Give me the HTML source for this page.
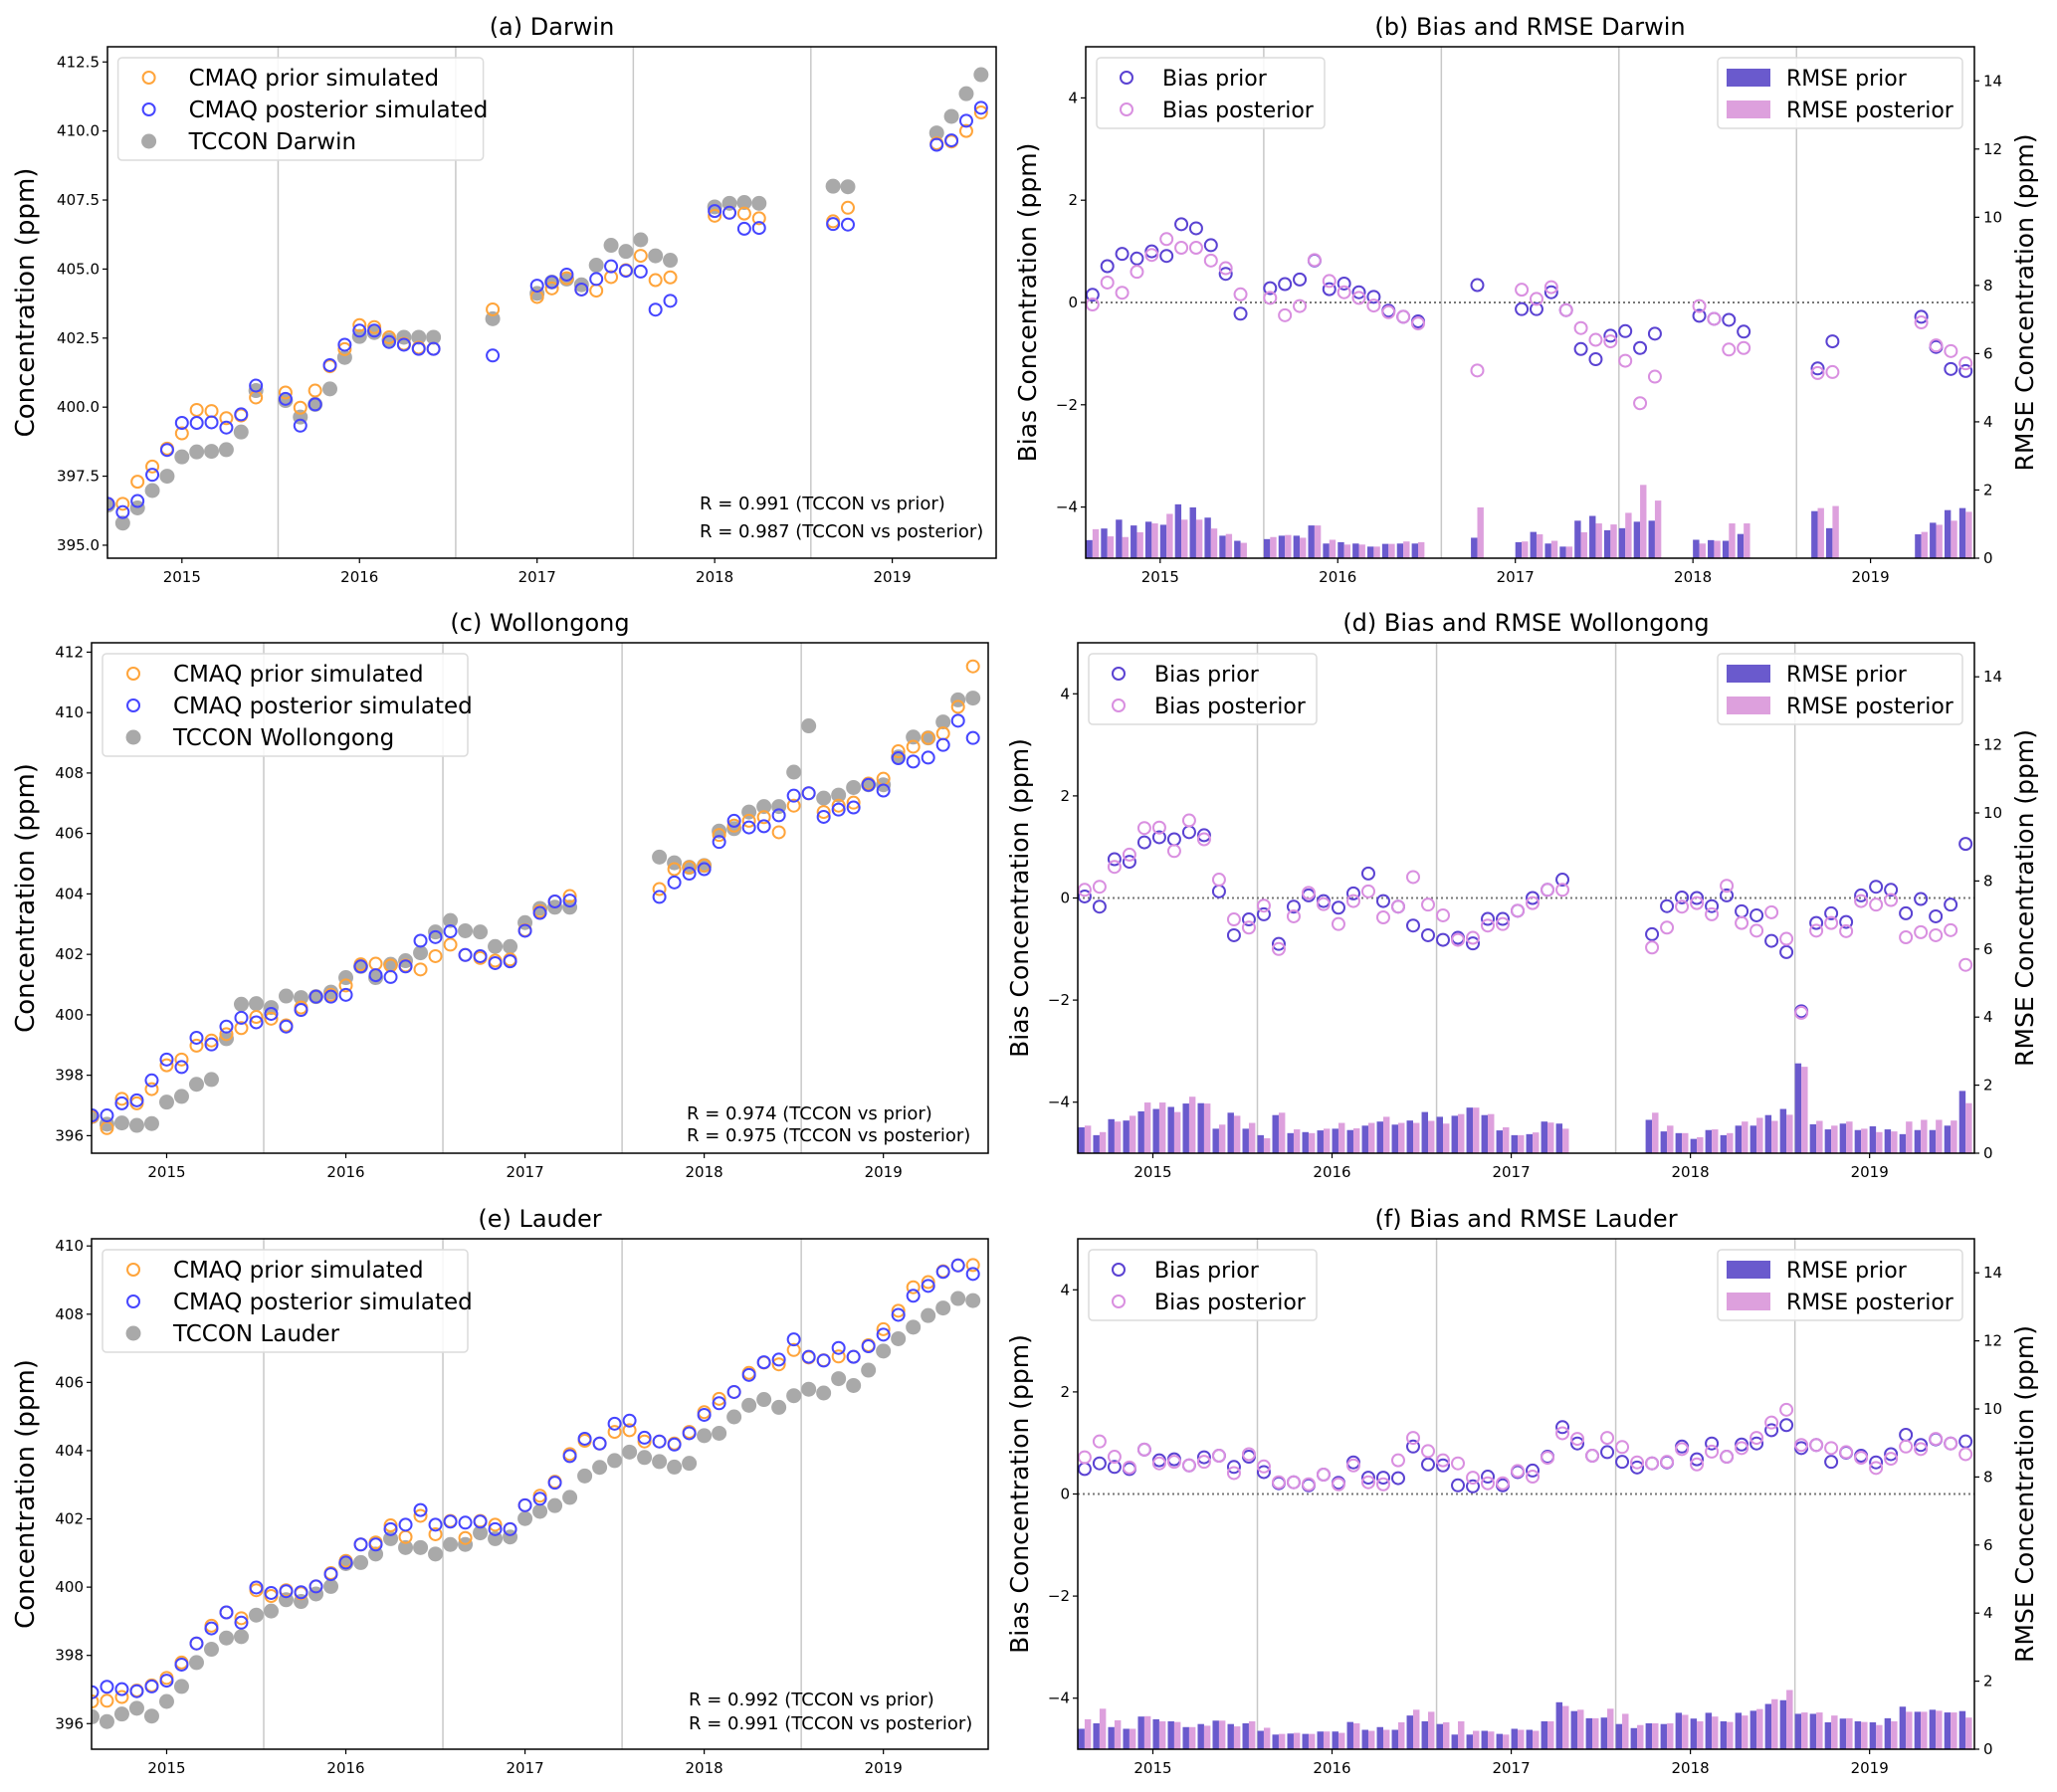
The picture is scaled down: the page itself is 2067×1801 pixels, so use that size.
<!DOCTYPE html>
<html><head><meta charset="utf-8"><style>
html,body{margin:0;padding:0;background:#fff;}
svg{display:block;font-family:"DejaVu Sans","Liberation Sans",sans-serif;}
</style></head><body>
<svg id="fig" width="2067" height="1801" viewBox="0 0 2067 1801" xmlns="http://www.w3.org/2000/svg"></svg>
<script>
const yearLabels=["2015","2016","2017","2018","2019"];
const N=null;
const aPrior=[396.5,396.5,397.3,397.85,398.5,399.05,399.9,399.86,399.6,399.7,400.35,N,400.53,399.98,400.6,401.48,402.1,402.97,402.9,402.53,402.29,402.15,402.11,N,N,N,403.54,N,N,403.99,404.3,404.67,404.26,404.22,404.71,404.96,405.48,404.6,404.7,N,N,406.93,407.04,407.01,406.84,N,N,N,N,406.73,407.22,N,N,N,N,N,409.55,409.62,410.0,410.67];
const aPost=[396.5,396.2,396.6,397.55,398.45,399.43,399.43,399.45,399.26,399.74,400.78,N,400.3,399.33,400.1,401.52,402.26,402.77,402.77,402.36,402.26,402.11,402.11,N,N,N,401.87,N,N,404.4,404.53,404.8,404.26,404.64,405.1,404.94,404.91,403.53,403.85,N,N,407.1,407.04,406.46,406.49,N,N,N,N,406.63,406.61,N,N,N,N,N,409.5,409.66,410.37,410.84];
const aObs=[396.45,395.8,396.35,396.98,397.5,398.2,398.38,398.4,398.46,399.1,400.6,N,400.24,399.64,400.1,400.66,401.8,402.56,402.7,402.43,402.53,402.53,402.53,N,N,N,403.2,N,N,404.12,404.53,404.64,404.43,405.14,405.86,405.64,406.06,405.48,405.32,N,N,407.25,407.38,407.41,407.38,N,N,N,N,408.0,407.98,N,N,N,N,N,409.93,410.53,411.35,412.04];
const bBiasPrior=[0.15,0.71,0.95,0.86,1.0,0.91,1.53,1.45,1.12,0.56,-0.22,N,0.28,0.36,0.45,0.82,0.26,0.37,0.2,0.11,-0.16,-0.28,-0.37,N,N,N,0.34,N,N,-0.13,-0.13,0.2,-0.15,-0.91,-1.11,-0.65,-0.56,-0.89,-0.61,N,N,-0.26,-0.32,-0.34,-0.57,N,N,N,N,-1.29,-0.76,N,N,N,N,N,-0.28,-0.87,-1.3,-1.34];
const bBiasPost=[-0.04,0.39,0.19,0.6,0.93,1.24,1.07,1.07,0.82,0.67,0.16,N,0.09,-0.25,-0.07,0.83,0.42,0.2,0.09,-0.06,-0.19,-0.28,-0.41,N,N,N,-1.33,N,N,0.25,0.07,0.3,-0.15,-0.5,-0.73,-0.76,-1.14,-1.97,-1.45,N,N,-0.07,-0.32,-0.92,-0.89,N,N,N,N,-1.38,-1.36,N,N,N,N,N,-0.39,-0.84,-0.95,-1.19];
const bRmsePrior=[0.53,0.87,1.13,0.96,1.07,0.98,1.58,1.49,1.19,0.66,0.51,N,0.56,0.66,0.66,0.96,0.43,0.47,0.43,0.34,0.42,0.43,0.43,N,N,N,0.6,N,N,0.47,0.77,0.43,0.34,1.1,1.24,0.82,0.88,1.07,1.1,N,N,0.54,0.53,0.51,0.71,N,N,N,N,1.38,0.88,N,N,N,N,N,0.7,1.04,1.41,1.47];
const bRmsePost=[0.85,0.64,0.62,0.76,1.02,1.3,1.13,1.13,0.87,0.71,0.45,N,0.62,0.68,0.6,0.96,0.54,0.4,0.4,0.34,0.42,0.49,0.47,N,N,N,1.49,N,N,0.49,0.7,0.51,0.34,0.76,1.02,0.99,1.33,2.15,1.69,N,N,0.43,0.51,1.02,1.02,N,N,N,N,1.47,1.53,N,N,N,N,N,0.77,0.98,1.1,1.36];
const cPrior=[396.63,396.25,397.22,397.07,397.54,398.33,398.52,398.98,399.15,399.36,399.56,399.93,399.87,399.65,400.24,400.6,400.66,400.97,401.67,401.69,401.63,401.63,401.5,401.94,402.32,401.98,401.88,401.79,401.83,402.8,403.43,403.75,403.93,N,N,N,N,N,404.16,404.82,404.88,404.94,405.95,406.26,406.42,406.54,406.04,406.92,407.33,406.71,406.92,407.02,407.65,407.81,408.72,408.87,409.16,409.31,410.19,411.53];
const cPost=[396.67,396.67,397.07,397.17,397.83,398.52,398.27,399.24,399.02,399.61,399.9,399.75,400.03,399.61,400.16,400.6,400.6,400.66,401.6,401.31,401.25,401.6,402.45,402.57,402.76,401.98,401.94,401.71,401.77,402.78,403.37,403.75,403.78,N,N,N,N,N,403.9,404.38,404.67,404.82,405.72,406.42,406.2,406.24,406.6,407.25,407.33,406.55,406.79,406.86,407.61,407.42,408.49,408.38,408.51,408.93,409.73,409.16];
const cObs=[396.63,396.38,396.42,396.34,396.4,397.11,397.3,397.7,397.86,399.21,400.35,400.37,400.24,400.62,400.57,400.6,400.75,401.23,401.6,401.23,401.67,401.79,402.05,402.74,403.12,402.78,402.74,402.26,402.26,403.05,403.52,403.56,403.56,N,N,N,N,N,405.22,405.03,404.88,404.94,406.08,406.16,406.71,406.89,406.89,408.03,409.56,407.17,407.27,407.52,407.61,407.61,408.53,409.19,409.16,409.69,410.42,410.48];
const dBiasPrior=[0.03,-0.17,0.76,0.71,1.09,1.19,1.15,1.29,1.23,0.13,-0.73,-0.42,-0.32,-0.9,-0.17,0.05,-0.06,-0.19,0.09,0.48,-0.06,-0.17,-0.54,-0.73,-0.82,-0.78,-0.89,-0.41,-0.41,-0.25,0.0,0.16,0.36,N,N,N,N,N,-0.71,-0.16,0.01,0.0,-0.16,0.05,-0.26,-0.34,-0.84,-1.06,-2.22,-0.49,-0.3,-0.47,0.05,0.22,0.16,-0.3,-0.02,-0.36,-0.13,1.06];
const dBiasPost=[0.16,0.22,0.61,0.85,1.37,1.38,0.92,1.52,1.15,0.36,-0.42,-0.58,-0.15,-1.0,-0.36,0.1,-0.12,-0.51,-0.06,0.13,-0.38,-0.17,0.41,-0.13,-0.34,-0.82,-0.78,-0.54,-0.51,-0.25,-0.1,0.16,0.16,N,N,N,N,N,-0.97,-0.58,-0.17,-0.1,-0.32,0.24,-0.49,-0.64,-0.28,-0.8,-2.25,-0.64,-0.49,-0.65,-0.06,-0.13,-0.04,-0.77,-0.67,-0.73,-0.63,-1.31];
const dRmsePrior=[0.76,0.53,1.0,0.96,1.23,1.3,1.36,1.46,1.47,0.72,1.19,0.72,0.53,1.12,0.59,0.62,0.67,0.72,0.68,0.81,0.93,0.84,0.96,1.21,1.07,1.1,1.34,1.12,0.67,0.53,0.56,0.93,0.87,N,N,N,N,N,0.98,0.64,0.59,0.42,0.68,0.53,0.81,0.81,1.12,1.3,2.64,0.85,0.7,0.87,0.68,0.79,0.7,0.56,0.68,0.68,0.81,1.83];
const dRmsePost=[0.81,0.62,0.93,1.1,1.49,1.49,1.21,1.66,1.46,0.84,1.1,0.89,0.44,1.19,0.7,0.59,0.72,0.89,0.73,0.89,1.07,0.89,0.89,0.95,0.87,1.15,1.34,1.15,0.76,0.53,0.61,0.9,0.72,N,N,N,N,N,1.19,0.81,0.59,0.47,0.7,0.59,0.93,1.04,0.95,1.13,2.54,0.95,0.81,0.93,0.72,0.62,0.64,0.93,0.98,0.98,0.96,1.47];
const ePrior=[396.65,396.67,396.78,396.97,397.12,397.34,397.79,398.35,398.87,399.26,399.09,399.91,399.74,399.91,399.82,400.02,400.41,400.77,401.25,401.31,401.81,401.47,402.09,401.55,401.94,401.44,401.94,401.83,401.7,402.4,402.68,403.09,403.9,404.29,404.21,404.55,404.6,404.27,404.27,404.21,404.55,405.13,405.52,405.72,406.28,406.58,406.53,406.95,406.73,406.65,406.76,406.75,407.09,407.56,408.1,408.79,408.94,409.26,409.43,409.44];
const ePost=[396.92,397.08,397.01,396.95,397.09,397.26,397.73,398.35,398.79,399.26,398.96,399.99,399.83,399.88,399.85,400.02,400.38,400.72,401.25,401.25,401.7,401.83,402.26,401.83,401.92,401.89,401.92,401.7,401.7,402.4,402.59,403.06,403.84,404.35,404.21,404.79,404.88,404.38,404.27,404.18,404.51,405.05,405.39,405.72,406.22,406.59,406.67,407.26,406.75,406.64,407.01,406.75,407.06,407.4,407.98,408.54,408.83,409.24,409.43,409.18];
const eObs=[396.2,396.06,396.28,396.45,396.22,396.65,397.09,397.79,398.18,398.51,398.55,399.18,399.3,399.63,399.58,399.8,400.02,400.69,400.72,400.97,401.42,401.16,401.16,400.97,401.25,401.25,401.59,401.42,401.47,402.01,402.22,402.39,402.63,403.26,403.51,403.71,403.96,403.8,403.68,403.52,403.63,404.44,404.51,404.99,405.33,405.5,405.27,405.61,405.8,405.69,406.11,405.91,406.36,406.92,407.28,407.62,407.96,408.18,408.46,408.4];
const fBiasPrior=[0.49,0.6,0.53,0.49,0.87,0.66,0.68,0.56,0.72,0.75,0.53,0.73,0.43,0.21,0.23,0.17,0.38,0.22,0.62,0.32,0.32,0.31,0.93,0.58,0.56,0.17,0.15,0.34,0.17,0.43,0.46,0.73,1.31,0.99,0.75,0.82,0.63,0.52,0.6,0.62,0.93,0.68,0.99,0.73,0.97,0.99,1.25,1.35,0.9,0.96,0.63,0.81,0.75,0.62,0.78,1.16,0.96,1.07,0.99,1.03];
const fBiasPost=[0.72,1.03,0.73,0.52,0.87,0.6,0.63,0.56,0.63,0.75,0.41,0.78,0.54,0.23,0.23,0.19,0.38,0.19,0.56,0.23,0.19,0.66,1.1,0.84,0.66,0.6,0.32,0.21,0.21,0.45,0.34,0.71,1.19,1.08,0.75,1.1,0.92,0.62,0.6,0.63,0.88,0.58,0.83,0.73,0.9,1.1,1.4,1.65,0.96,0.96,0.9,0.82,0.71,0.51,0.69,0.93,0.88,1.08,0.99,0.78];
const fRmsePrior=[0.6,0.76,0.65,0.6,0.96,0.88,0.82,0.65,0.74,0.84,0.74,0.76,0.54,0.43,0.46,0.45,0.52,0.52,0.8,0.57,0.65,0.57,0.99,0.82,0.74,0.43,0.43,0.54,0.45,0.6,0.57,0.82,1.38,1.12,0.91,0.93,0.74,0.62,0.76,0.74,1.07,0.9,1.07,0.82,1.07,1.13,1.33,1.44,1.04,1.04,0.79,0.9,0.82,0.79,0.91,1.25,1.1,1.16,1.08,1.12];
const fRmsePost=[0.88,1.19,0.85,0.6,0.97,0.82,0.8,0.65,0.69,0.84,0.67,0.82,0.63,0.45,0.48,0.45,0.52,0.48,0.76,0.54,0.57,0.79,1.16,1.1,0.79,0.82,0.54,0.52,0.43,0.57,0.54,0.82,1.27,1.16,0.91,1.19,1.04,0.71,0.76,0.76,1.01,0.82,0.96,0.8,0.99,1.18,1.47,1.74,1.08,1.08,0.99,0.91,0.8,0.71,0.82,1.1,1.1,1.13,1.08,0.93];
const concTicksA=[395,397.5,400,402.5,405,407.5,410,412.5];
const concTicksC=[396,398,400,402,404,406,408,410,412];
const concTicksE=[396,398,400,402,404,406,408,410];
const biasTicks=[-4,-2,0,2,4];
const rmseTicks=[0,2,4,6,8,10,12,14];
const rValuesA=["R = 0.991 (TCCON vs prior)","R = 0.987 (TCCON vs posterior)"];
const rValuesC=["R = 0.974 (TCCON vs prior)","R = 0.975 (TCCON vs posterior)"];
const rValuesE=["R = 0.992 (TCCON vs prior)","R = 0.991 (TCCON vs posterior)"];

const NS="http://www.w3.org/2000/svg";
const svg=document.getElementById('fig');
const C={orange:"#ffa43a",blue:"#4545ff",grey:"#a9a9a9",bp:"#5a42d2",bq:"#d98fe0",rp:"#6a5acd",rq:"#dda0dd"};
const TMIN=-5.03,TMAX=55.02;
function el(tag,attrs,parent){const e=document.createElementNS(NS,tag);for(const k in attrs)e.setAttribute(k,attrs[k]);(parent||svg).appendChild(e);return e;}
function txt(s,attrs,parent){const e=el('text',attrs,parent);e.textContent=s;return e;}
function xScale(p,m){return p.x0+(m-TMIN)/(TMAX-TMIN)*(p.x1-p.x0);}
function yScale(p,v,lo,hi){return p.y1-(v-lo)/(hi-lo)*(p.y1-p.y0);}
function frame(p,name,title,gridOff){
  const g=el('g',{});
  
  
  const t=txt(title,{x:(p.x0+p.x1)/2,y:p.y0-12,'text-anchor':'middle','font-size':24},g);
  
  
  for(let j=0;j<4;j++){const x=xScale(p,gridOff+12*j);const l=el('line',{x1:x,x2:x,y1:p.y0,y2:p.y1,stroke:'#c8c8c8','stroke-width':1.5},g);
    
    }
  yearLabels.forEach((lab,i)=>{const x=xScale(p,i*12);el('line',{x1:x,x2:x,y1:p.y1,y2:p.y1+5,stroke:'#000','stroke-width':1.2},g);
    const tt=txt(lab,{x:x,y:p.y1+24,'text-anchor':'middle','font-size':15},g);
    
    });
  return g;
}
function border(p,g){el('rect',{x:p.x0,y:p.y0,width:p.x1-p.x0,height:p.y1-p.y0,fill:'none',stroke:'#000','stroke-width':1.5},g);}
function circle(g,x,y,col,name,filled){const c=el('circle',filled?{cx:x,cy:y,r:7.5,fill:col}:{cx:x,cy:y,r:6,fill:'none',stroke:col,'stroke-width':2},g);
  
  return c;}
function concPanel(p,name,title,lo,hi,ticks,dec,prior,post,obs,site,rvals,leg){
  const g=frame(p,name,title,6.5);
  const clip=el('clipPath',{id:'clip-'+name},g);el('rect',{x:p.x0,y:p.y0,width:p.x1-p.x0,height:p.y1-p.y0},clip);
  const mg=el('g',{'clip-path':'url(#clip-'+name+')'},g);
  obs.forEach((v,k)=>{if(v!==null)circle(mg,xScale(p,k-5),yScale(p,v,lo,hi),C.grey,'tccon-point',true);});
  prior.forEach((v,k)=>{if(v!==null)circle(mg,xScale(p,k-5),yScale(p,v,lo,hi),C.orange,'prior-point');});
  post.forEach((v,k)=>{if(v!==null)circle(mg,xScale(p,k-5),yScale(p,v,lo,hi),C.blue,'posterior-point');});
  ticks.forEach(v=>{const y=yScale(p,v,lo,hi);el('line',{x1:p.x0-5,x2:p.x0,y1:y,y2:y,stroke:'#000','stroke-width':1.2},g);
    const t=txt(v.toFixed(dec),{x:p.x0-8,y:y+5,'text-anchor':'end','font-size':15},g);
    
    });
  const yl=txt('Concentration (ppm)',{x:0,y:0,'text-anchor':'middle','font-size':26,transform:`translate(34,${(p.y0+p.y1)/2}) rotate(-90)`},g);
  
  
  border(p,g);
  const lg=el('g',{},g);
  
  
  el('rect',{x:leg,y:p.y0+11,width:367,height:103,rx:4,fill:'#fff','fill-opacity':0.85,stroke:'#dcdcdc','stroke-width':1.5},lg);
  const items=[['CMAQ prior simulated',C.orange,false],['CMAQ posterior simulated',C.blue,false],['TCCON '+site,C.grey,true]];
  items.forEach((it,i)=>{const y=p.y0+31+i*32;circle(lg,leg+31,y,it[1],'legend-marker',it[2]);
    const t=txt(it[0],{x:leg+71,y:y+8,'font-size':23},lg);
    
    });
  rvals.forEach((s,i)=>{const t=txt(s,{x:p.rx,y:p.ry+i*p.rdy,'font-size':18},g);
    
    });
}
function biasPanel(p,name,title,bp,bq,rp,rq){
  const g=frame(p,name,title,7.0);
  const W=0.43;
  const bw=(p.x1-p.x0)*W/(TMAX-TMIN);
  rp.forEach((v,k)=>{if(v===null)return;const x=xScale(p,k-5);const y=yScale(p,v,0,15);
    const r=el('rect',{x:x,y:y,width:bw,height:p.y1-y,fill:C.rp},g);
    
    });
  rq.forEach((v,k)=>{if(v===null)return;const x=xScale(p,k-5+W);const y=yScale(p,v,0,15);
    const r=el('rect',{x:x,y:y,width:bw,height:p.y1-y,fill:C.rq},g);
    
    });
  const z=yScale(p,0,-5,5);
  const zl=el('line',{x1:p.x0,x2:p.x1,y1:z,y2:z,stroke:'#777','stroke-width':2,'stroke-dasharray':'2,3'},g);
  
  
  bp.forEach((v,k)=>{if(v!==null)circle(g,xScale(p,k-5+W),yScale(p,v,-5,5),C.bp,'bias-prior-point');});
  bq.forEach((v,k)=>{if(v!==null)circle(g,xScale(p,k-5+W),yScale(p,v,-5,5),C.bq,'bias-posterior-point');});
  biasTicks.forEach(v=>{const y=yScale(p,v,-5,5);el('line',{x1:p.x0-5,x2:p.x0,y1:y,y2:y,stroke:'#000','stroke-width':1.2},g);
    const t=txt(v<0?'\u2212'+Math.abs(v):String(v),{x:p.x0-8,y:y+5,'text-anchor':'end','font-size':15},g);
    
    });
  rmseTicks.forEach(v=>{const y=yScale(p,v,0,15);el('line',{x1:p.x1,x2:p.x1+5,y1:y,y2:y,stroke:'#000','stroke-width':1.2},g);
    const t=txt(String(v),{x:p.x1+9,y:y+5,'font-size':15},g);
    
    });
  const yl=txt('Bias Concentration (ppm)',{x:0,y:0,'text-anchor':'middle','font-size':25,transform:`translate(${p.x0-50},${(p.y0+p.y1)/2}) rotate(-90)`},g);
  
  
  const yr=txt('RMSE Concentration (ppm)',{x:0,y:0,'text-anchor':'middle','font-size':25,transform:`translate(2043,${(p.y0+p.y1)/2}) rotate(-90)`},g);
  
  
  border(p,g);
  const l1=el('g',{},g);
  
  
  const lx=p.x0+11;
  el('rect',{x:lx,y:p.y0+11,width:229,height:71,rx:4,fill:'#fff','fill-opacity':0.85,stroke:'#dcdcdc','stroke-width':1.5},l1);
  [['Bias prior',C.bp],['Bias posterior',C.bq]].forEach((it,i)=>{const y=p.y0+31+i*32;circle(l1,lx+30,y,it[1],'legend-marker');
    const t=txt(it[0],{x:lx+66,y:y+8,'font-size':22},l1);
    
    });
  const l2=el('g',{},g);
  
  
  el('rect',{x:1726,y:p.y0+11,width:246,height:71,rx:4,fill:'#fff','fill-opacity':0.85,stroke:'#dcdcdc','stroke-width':1.5},l2);
  [['RMSE prior',C.rp],['RMSE posterior',C.rq]].forEach((it,i)=>{const y=p.y0+31+i*32;el('rect',{x:1735,y:y-9,width:44,height:18,fill:it[1]},l2);
    const t=txt(it[0],{x:1795,y:y+8,'font-size':22},l2);
    
    });
}
const pa={x0:108,x1:1001,y0:47,y1:561,rx:703,ry:512,rdy:28};
const pb={x0:1091,x1:1984,y0:47,y1:561};
const pc={x0:92,x1:993,y0:646,y1:1159,rx:690,ry:1125,rdy:22};
const pd={x0:1083,x1:1984,y0:646,y1:1159};
const pe={x0:92,x1:993,y0:1245,y1:1758,rx:692,ry:1714,rdy:24};
const pf={x0:1083,x1:1984,y0:1245,y1:1758};
concPanel(pa,'panel-a-darwin','(a) Darwin',394.53,413.05,concTicksA,1,aPrior,aPost,aObs,'Darwin',rValuesA,118.6);
biasPanel(pb,'panel-b-bias-darwin','(b) Bias and RMSE Darwin',bBiasPrior,bBiasPost,bRmsePrior,bRmsePost);
concPanel(pc,'panel-c-wollongong','(c) Wollongong',395.42,412.31,concTicksC,0,cPrior,cPost,cObs,'Wollongong',rValuesC,103);
biasPanel(pd,'panel-d-bias-wollongong','(d) Bias and RMSE Wollongong',dBiasPrior,dBiasPost,dRmsePrior,dRmsePost);
concPanel(pe,'panel-e-lauder','(e) Lauder',395.25,410.21,concTicksE,0,ePrior,ePost,eObs,'Lauder',rValuesE,103);
biasPanel(pf,'panel-f-bias-lauder','(f) Bias and RMSE Lauder',fBiasPrior,fBiasPost,fRmsePrior,fRmsePost);
</script>
</body></html>
